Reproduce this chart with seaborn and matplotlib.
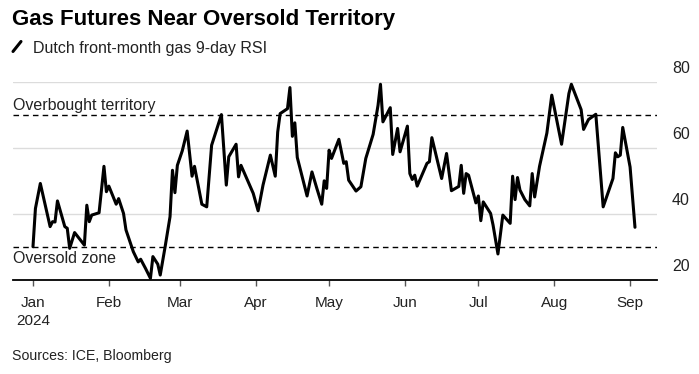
import pandas as pd
import matplotlib.pyplot as plt
import matplotlib.transforms as mtransforms
from matplotlib.lines import Line2D
import seaborn as sns

# Dutch front-month gas 9-day RSI
dates = [
    "2024-01-01", "2024-01-02", "2024-01-04", "2024-01-08", "2024-01-09", "2024-01-10",
    "2024-01-11", "2024-01-14", "2024-01-15", "2024-01-16", "2024-01-18", "2024-01-22",
    "2024-01-23", "2024-01-24", "2024-01-25", "2024-01-28", "2024-01-30", "2024-01-31",
    "2024-02-01", "2024-02-04", "2024-02-05", "2024-02-07", "2024-02-08", "2024-02-11",
    "2024-02-13", "2024-02-14", "2024-02-16", "2024-02-18", "2024-02-19", "2024-02-21",
    "2024-02-22", "2024-02-24", "2024-02-26", "2024-02-27", "2024-02-28", "2024-02-29",
    "2024-03-02", "2024-03-04", "2024-03-06", "2024-03-07", "2024-03-10", "2024-03-12",
    "2024-03-14", "2024-03-18", "2024-03-20", "2024-03-21", "2024-03-24", "2024-03-25",
    "2024-03-26", "2024-03-31", "2024-04-02", "2024-04-04", "2024-04-07", "2024-04-09",
    "2024-04-10", "2024-04-11", "2024-04-14", "2024-04-15", "2024-04-16", "2024-04-17",
    "2024-04-18", "2024-04-22", "2024-04-24", "2024-04-26", "2024-04-28", "2024-04-29",
    "2024-04-30", "2024-05-01", "2024-05-02", "2024-05-05", "2024-05-07", "2024-05-08",
    "2024-05-09", "2024-05-12", "2024-05-14", "2024-05-16", "2024-05-19", "2024-05-21",
    "2024-05-22", "2024-05-23", "2024-05-26", "2024-05-27", "2024-05-29", "2024-05-30",
    "2024-06-02", "2024-06-03", "2024-06-04", "2024-06-05", "2024-06-06", "2024-06-10",
    "2024-06-11", "2024-06-12", "2024-06-16", "2024-06-18", "2024-06-20", "2024-06-23",
    "2024-06-24", "2024-06-25", "2024-06-26", "2024-06-27", "2024-06-30", "2024-07-01",
    "2024-07-02", "2024-07-03", "2024-07-06", "2024-07-07", "2024-07-09", "2024-07-11",
    "2024-07-14", "2024-07-15", "2024-07-16", "2024-07-17", "2024-07-18", "2024-07-20",
    "2024-07-22", "2024-07-23", "2024-07-24", "2024-07-26", "2024-07-29", "2024-07-31",
    "2024-08-04", "2024-08-07", "2024-08-08", "2024-08-12", "2024-08-13", "2024-08-15",
    "2024-08-18", "2024-08-20", "2024-08-21", "2024-08-25", "2024-08-26", "2024-08-27",
    "2024-08-28", "2024-08-29", "2024-09-01", "2024-09-03",
]
rsi = [
    30.1, 41.7, 49.3, 36.2, 37.7, 37.6,
    44.0, 36.2, 35.7, 29.6, 34.4, 30.6,
    42.7, 37.7, 39.7, 40.4, 54.5, 46.8,
    48.5, 43.0, 44.7, 40.2, 35.2, 28.6,
    25.5, 26.3, 23.5, 20.5, 27.1, 24.8,
    21.5, 30.1, 39.2, 53.3, 46.5, 54.8,
    59.2, 65.2, 51.5, 54.5, 43.0, 42.2,
    60.9, 70.2, 48.8, 57.4, 61.2, 51.3,
    54.8, 46.3, 41.0, 48.8, 57.9, 51.5,
    64.9, 70.5, 72.0, 78.4, 63.6, 67.7,
    57.2, 45.5, 52.8, 47.8, 43.0, 50.1,
    47.8, 59.4, 56.9, 62.7, 55.4, 55.9,
    50.3, 47.0, 48.3, 56.9, 64.2, 73.0,
    79.4, 68.0, 72.3, 58.1, 66.0, 58.9,
    66.7, 52.3, 50.5, 51.8, 48.5, 55.4,
    55.9, 63.2, 50.8, 58.4, 47.1, 48.4,
    54.8, 46.3, 52.3, 51.8, 43.4, 45.5,
    38.0, 43.7, 40.2, 36.7, 27.9, 39.7,
    37.2, 51.5, 44.4, 51.1, 47.3, 44.4,
    42.5, 52.3, 45.2, 54.5, 64.6, 76.1,
    61.2, 76.6, 79.4, 71.7, 65.7, 68.7,
    70.3, 51.3, 42.2, 50.8, 58.6, 57.4,
    57.9, 66.3, 54.3, 36.0,
]

month_ticks = ["2024-01-01", "2024-02-01", "2024-03-01", "2024-04-01", "2024-05-01",
               "2024-06-01", "2024-07-01", "2024-08-01", "2024-09-01"]
month_labels = ["Jan\n2024", "Feb", "Mar", "Apr", "May", "Jun", "Jul", "Aug", "Sep"]
y_ticks = [20, 40, 60, 80]
overbought = 70
oversold = 30

sns.set_theme(style="white")
plt.rcParams['font.family'] = ['Liberation Sans', 'DejaVu Sans']

W, H = 699, 374
fig = plt.figure(figsize=(W / 100, H / 100), dpi=100)
ax = fig.add_axes([13 / W, 1 - 280 / H, (657 - 13) / W, (280 - 82.3) / H])

df = pd.DataFrame({"date": pd.to_datetime(dates), "rsi": rsi})
sns.lineplot(data=df, x="date", y="rsi", ax=ax, color="black", linewidth=2.2,
             clip_on=False, zorder=5)

# reference levels
for lvl in (overbought, oversold):
    ax.axhline(lvl, color="black", lw=1, ls=(0, (4, 3)), zorder=3)

ax.set_ylim(20, 80)
ax.set_xlim(pd.Timestamp("2023-12-23 20:00"), pd.Timestamp("2024-09-12"))
ax.set_xlabel("")
ax.set_ylabel("")

for side in ("top", "left", "right"):
    ax.spines[side].set_visible(False)
ax.spines["bottom"].set_color("black")
ax.spines["bottom"].set_linewidth(1.3)
ax.yaxis.grid(True, color="#dcdcdc", lw=1)
ax.xaxis.grid(False)

ax.set_xticks(pd.to_datetime(month_ticks))
ax.set_xticklabels(month_labels, linespacing=1.35)
ax.tick_params(axis="x", bottom=True, length=4.5, width=1, color="#555555",
               pad=7, labelsize=11, labelcolor="#222222")

ax.yaxis.tick_right()
ax.set_yticks(y_ticks)
ax.tick_params(axis="y", length=0, pad=10.8, labelsize=11.5, labelcolor="#222222")
shift = mtransforms.ScaledTranslation(0, 15 / 100, fig.dpi_scale_trans)
for lbl in ax.get_yticklabels():
    lbl.set_transform(lbl.get_transform() + shift)

blend = mtransforms.blended_transform_factory(ax.transAxes, ax.transData)
ax.text(0, 71.7, "Overbought territory", transform=blend, fontsize=11.5,
        va="baseline", ha="left", color="#222222")
ax.text(0, 25.3, "Oversold zone", transform=blend, fontsize=11.5,
        va="baseline", ha="left", color="#222222")

fig.text(12 / W, 1 - 25 / H, "Gas Futures Near Oversold Territory", fontsize=16,
         fontweight="bold", va="baseline", ha="left", color="black")
fig.text(33 / W, 1 - 52.5 / H, "Dutch front-month gas 9-day RSI", fontsize=11.5,
         va="baseline", ha="left", color="#222222")
fig.add_artist(Line2D([13 / W, 21 / W], [1 - 51.5 / H, 1 - 41.5 / H],
                      transform=fig.transFigure, color="black", lw=2.2))
fig.text(12 / W, 1 - 360 / H, "Sources: ICE, Bloomberg", fontsize=10.2,
         va="baseline", ha="left", color="#222222")

fig.savefig("out.png", dpi=100)
